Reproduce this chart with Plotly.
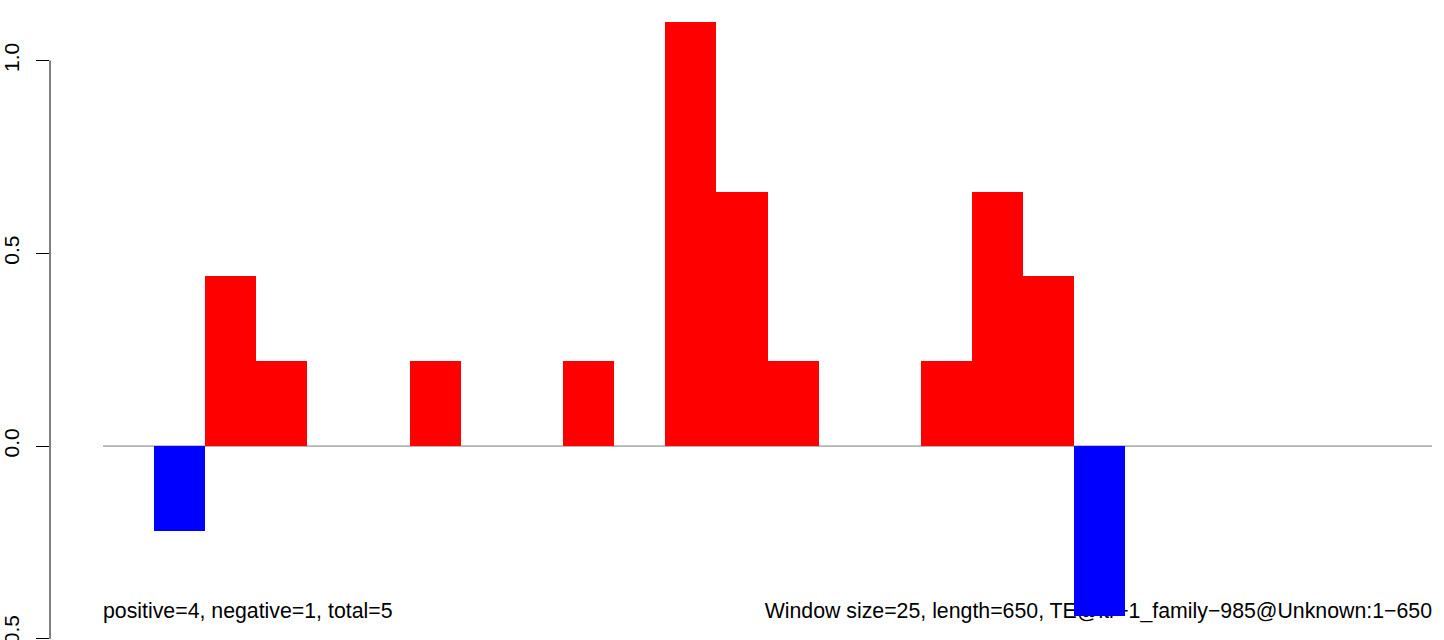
import plotly.graph_objects as go

# Data
window_size = 25
seq_length = 650
window_values = [0, -0.22, 0.44, 0.22, 0, 0, 0.22, 0, 0, 0.22, 0, 1.1, 0.66, 0.22,
                 0, 0, 0.22, 0.66, 0.44, -0.44, 0, 0, 0, 0, 0, 0]
y_tick_vals = [-0.5, 0.0, 0.5, 1.0]
y_tick_text = ["\u22120.5", "0.0", "0.5", "1.0"]
left_label = "positive=4, negative=1, total=5"
right_label = "Window size=25, length=650, TE@ltr\u22121_family\u2212985@Unknown:1\u2212650"
label_y = -0.432

FONT = "Liberation Sans, Arial, Helvetica, sans-serif"

x_centers = [window_size * i + window_size / 2 for i in range(len(window_values))]
colors = ["#FF0000" if v > 0 else "#0000FF" for v in window_values]

fig = go.Figure()

# baseline (drawn first, below bars)
fig.add_trace(go.Scatter(
    x=[0, seq_length], y=[0, 0], mode="lines",
    line=dict(color="#7a7a7a", width=1), hoverinfo="skip", showlegend=False,
    xaxis="x", yaxis="y"))

# labels (below bars)
fig.add_trace(go.Scatter(
    x=[0], y=[label_y], mode="text", text=[left_label], textposition="middle right",
    textfont=dict(family=FONT, size=21.3, color="#000000"),
    hoverinfo="skip", showlegend=False, xaxis="x", yaxis="y"))
fig.add_trace(go.Scatter(
    x=[seq_length], y=[label_y], mode="text", text=[right_label], textposition="middle left",
    textfont=dict(family=FONT, size=21.3, color="#000000"),
    hoverinfo="skip", showlegend=False, xaxis="x", yaxis="y"))

# bars on overlay axes so they sit above the text
fig.add_trace(go.Bar(
    x=x_centers, y=window_values, width=[window_size] * len(window_values),
    marker=dict(color=colors, line=dict(width=0)),
    showlegend=False, hoverinfo="skip", xaxis="x2", yaxis="y2"))

px_per_unit = (1432 - 103) / seq_length
x_left = -(103 - 50) / px_per_unit
x_right = seq_length + (1444 - 1432) / px_per_unit
y_range = [-0.503, 1.157]

fig.update_layout(
    width=1444, height=640,
    margin=dict(l=50, r=0, t=0, b=0, autoexpand=False),
    paper_bgcolor="white", plot_bgcolor="white",
    bargap=0,
    font=dict(family=FONT, size=21, color="#000000"),
    xaxis=dict(range=[x_left, x_right], visible=False, showgrid=False, zeroline=False,
               automargin=False),
    xaxis2=dict(range=[x_left, x_right], overlaying="x", visible=False,
                showgrid=False, zeroline=False),
    yaxis=dict(range=y_range, tickvals=y_tick_vals, ticktext=y_tick_text,
               tickangle=-90, ticks="outside", ticklen=13, tickwidth=1,
               tickcolor="#000000", showgrid=False, zeroline=False, showline=False,
               ticklabelstandoff=9, ticklabeloverflow="allow", automargin=False,
               tickfont=dict(family=FONT, size=21, color="#000000")),
    yaxis2=dict(range=y_range, overlaying="y", visible=False,
                showgrid=False, zeroline=False),
    shapes=[dict(type="line", xref="paper", yref="y", x0=0, x1=0,
                 y0=y_tick_vals[0], y1=y_tick_vals[-1],
                 line=dict(color="#000000", width=1))],
)

fig.write_html("out.html", config={"displayModeBar": False},
               post_script="document.body.style.margin='0';document.body.style.overflow='hidden';")
